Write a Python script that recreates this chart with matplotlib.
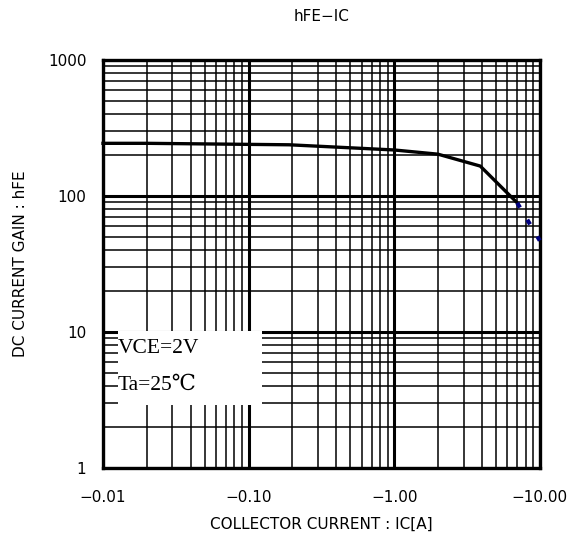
import matplotlib
matplotlib.use("Agg")
import matplotlib.pyplot as plt
from matplotlib.ticker import LogLocator, NullFormatter
from matplotlib.patches import Rectangle

# Data (collector current magnitude [A], DC current gain)
ic_solid = [0.01, 0.02, 0.19, 1.0, 2.0, 3.9, 7.0]
hfe_solid = [244, 244, 238, 218, 203, 166, 89]
ic_dot = [7.0, 8.2, 10.0]
hfe_dot = [89, 67, 47]

x_ticks = [0.01, 0.1, 1, 10]
x_labels = ["\u22120.01", "\u22120.10", "\u22121.00", "\u221210.00"]
y_ticks = [1, 10, 100, 1000]
y_labels = ["1", "10", "100", "1000"]

plt.rcParams['font.family'] = ['DejaVu Sans', 'Noto Sans CJK JP']

fig = plt.figure(figsize=(5.70, 5.44), dpi=100)
ax = fig.add_axes([0.1807, 0.1397, 0.947 - 0.1807, 0.8897 - 0.1397])
ax.set_xscale('log')
ax.set_yscale('log')
ax.set_xlim(0.01, 10)
ax.set_ylim(1, 1000)

ax.xaxis.set_minor_locator(LogLocator(base=10, subs=range(2, 10)))
ax.yaxis.set_minor_locator(LogLocator(base=10, subs=range(2, 10)))
ax.xaxis.set_minor_formatter(NullFormatter())
ax.yaxis.set_minor_formatter(NullFormatter())
ax.set_xticks(x_ticks)
ax.set_xticklabels(x_labels)
ax.set_yticks(y_ticks)
ax.set_yticklabels(y_labels)

ax.grid(True, which='major', color='black', linewidth=2.2, zorder=1)
ax.grid(True, which='minor', color='black', linewidth=1.1, zorder=1)
ax.set_axisbelow(True)
for s in ax.spines.values():
    s.set_linewidth(2.4)
    s.set_color('black')

ax.tick_params(axis='both', which='both', length=0, labelsize=11)
ax.tick_params(axis='x', pad=16)
ax.tick_params(axis='y', pad=12)

ax.plot(ic_solid, hfe_solid, color='black', linewidth=2.4, zorder=3, clip_on=False)
ax.plot(ic_dot, hfe_dot, color='#000080', linewidth=3, linestyle=(0, (1.3, 3.4)),
        zorder=3, clip_on=False)

# condition box
rect = Rectangle((0.034, 0.155), 0.33, 0.18, transform=ax.transAxes,
                 facecolor='white', edgecolor='none', zorder=4)
ax.add_patch(rect)
serif = ['Liberation Serif', 'DejaVu Serif', 'Noto Sans CJK JP']
ax.text(0.034, 0.294, "VCE=2V", transform=ax.transAxes, fontsize=15.5,
        family=serif, va='center', ha='left', zorder=5)
ax.text(0.034, 0.203, "Ta=25\u2103", transform=ax.transAxes, fontsize=15.5,
        family=serif, va='center', ha='left', zorder=5)

ax.set_title("hFE\u2212IC", fontsize=11, pad=28)
ax.set_xlabel("COLLECTOR CURRENT : IC[A]", fontsize=11, labelpad=8)
ax.set_ylabel("DC CURRENT GAIN : hFE", fontsize=11, labelpad=14)

fig.savefig("out.png", dpi=100)
